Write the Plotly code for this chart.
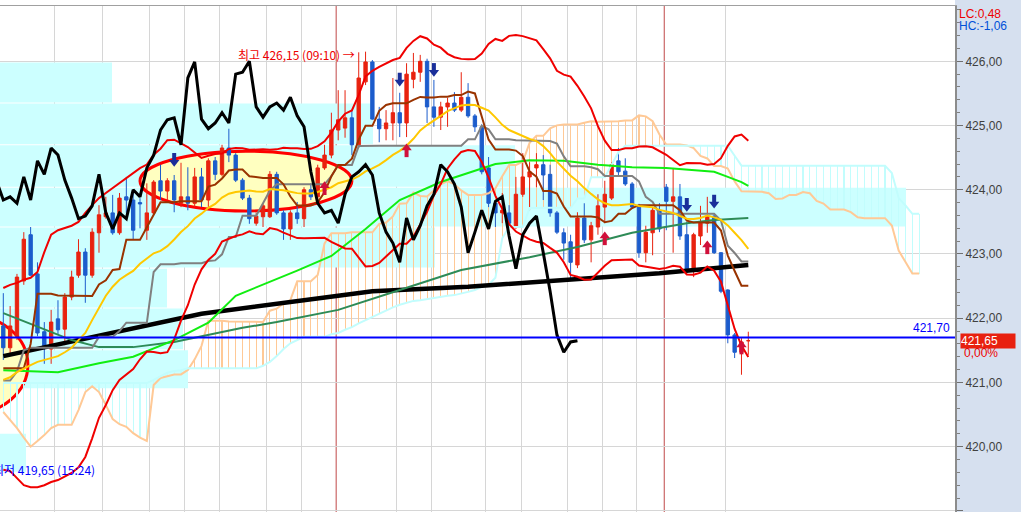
import numpy as np
import plotly.graph_objects as go

# ---------------- candle data (index 0..109) ----------------
open_ = [421.88, 421.54, 421.72, 422.58, 423.30, 422.69, 421.79, 421.52, 421.99, 421.83,
         422.33, 422.67, 423.03, 422.67, 423.33, 423.58, 423.64, 423.33, 423.89, 423.84,
         423.80, 423.37, 423.64, 424.14, 423.98, 424.14, 423.79, 423.89, 423.79, 424.20,
         423.84, 424.45, 424.24, 424.65, 424.54, 424.15, 423.87, 423.48, 423.58, 423.58,
         424.24, 423.64, 423.39, 423.64, 423.55, 424.00, 423.89, 424.34, 424.54, 424.93,
         424.96, 425.12, 424.70, 425.68, 425.99, 425.10, 424.95, 425.04, 425.20, 425.04,
         425.72, 425.83, 426.00, 425.29, 425.13, 425.29, 425.35, 425.24, 425.44, 425.15,
         424.98, 424.34, 423.79, 423.64, 423.64, 423.42, 423.93, 424.20, 424.34, 424.39,
         424.24, 423.64, 423.33, 423.19, 422.83, 423.56, 423.22, 423.42, 423.73, 423.87,
         424.45, 424.29, 424.09, 423.75, 423.02, 423.33, 423.68, 424.04, 423.82, 423.89,
         423.30, 422.77, 423.28, 423.48, 423.59, 423.02, 422.44, 421.74, 421.47, 421.65]
high_ = [422.39, 422.19, 422.69, 423.34, 423.42, 422.87, 421.94, 422.13, 422.28, 422.39,
         422.74, 423.23, 423.09, 423.40, 423.76, 423.89, 423.92, 423.95, 424.20, 424.00,
         423.87, 424.10, 424.15, 424.39, 424.18, 424.23, 424.42, 424.35, 424.34, 424.34,
         424.49, 424.51, 424.70, 424.95, 424.57, 424.18, 423.92, 423.64, 423.79, 424.29,
         424.28, 423.68, 423.68, 423.81, 424.04, 424.10, 424.39, 424.70, 425.20, 425.55,
         425.55, 425.24, 426.14, 426.15, 426.02, 425.29, 425.24, 425.74, 425.51, 425.97,
         426.13, 426.10, 426.04, 425.71, 425.37, 425.43, 425.52, 425.83, 425.66, 425.18,
         425.02, 424.51, 423.84, 423.95, 423.76, 424.20, 424.57, 424.43, 424.57, 424.54,
         424.39, 423.67, 423.40, 423.30, 423.65, 423.79, 423.50, 423.93, 424.14, 424.43,
         424.65, 424.49, 424.12, 423.78, 423.44, 423.72, 423.79, 424.09, 424.34, 424.09,
         423.50, 423.33, 423.75, 423.89, 423.62, 423.03, 422.45, 421.77, 421.69, 421.79]
low_ = [421.35, 421.43, 421.66, 422.52, 422.66, 421.72, 421.29, 421.29, 421.74, 421.58,
        422.28, 422.63, 422.24, 422.63, 423.02, 423.55, 423.30, 423.30, 423.64, 423.22,
        423.40, 423.22, 423.61, 423.84, 423.84, 423.65, 423.73, 423.68, 423.73, 423.73,
        423.73, 424.15, 424.21, 424.43, 424.12, 423.84, 423.47, 423.44, 423.42, 423.56,
        423.61, 423.22, 423.22, 423.47, 423.42, 423.84, 423.84, 424.31, 424.49, 424.77,
        424.81, 424.54, 424.65, 425.63, 425.09, 424.74, 424.77, 424.77, 424.82, 424.82,
        425.58, 425.68, 425.04, 424.98, 424.93, 424.98, 425.21, 425.21, 425.12, 424.90,
        424.24, 423.73, 423.42, 423.48, 423.42, 423.39, 423.89, 423.68, 424.04, 423.84,
        423.58, 423.31, 422.91, 422.60, 422.78, 423.17, 422.87, 423.30, 423.48, 423.84,
        424.20, 424.06, 423.70, 422.94, 422.87, 422.98, 423.34, 423.37, 423.02, 423.22,
        422.70, 422.64, 423.14, 423.33, 423.00, 422.39, 421.61, 421.38, 421.12, 421.43]
close_ = [421.54, 421.88, 422.64, 423.23, 422.67, 421.77, 421.57, 421.94, 421.82, 422.33,
          422.64, 423.03, 422.67, 423.34, 423.61, 423.64, 423.33, 423.87, 423.84, 423.37,
          423.78, 423.64, 424.12, 423.98, 424.14, 423.84, 423.89, 423.79, 424.20, 423.84,
          424.45, 424.24, 424.65, 424.54, 424.15, 423.87, 423.55, 423.59, 423.75, 424.24,
          423.64, 423.39, 423.64, 423.55, 424.00, 423.89, 424.34, 424.54, 424.93, 425.09,
          425.12, 424.70, 425.74, 425.99, 425.10, 424.95, 425.04, 425.20, 425.04, 425.80,
          425.83, 426.00, 425.29, 425.13, 425.29, 425.35, 425.24, 425.44, 425.15, 424.98,
          424.28, 423.79, 423.64, 423.68, 423.48, 423.93, 424.20, 424.28, 424.39, 424.23,
          423.64, 423.34, 423.17, 422.87, 423.56, 423.22, 423.44, 423.75, 423.93, 424.39,
          424.28, 424.09, 423.73, 423.02, 423.34, 423.68, 423.39, 423.82, 423.89, 423.28,
          422.77, 423.30, 423.48, 423.59, 423.02, 422.42, 421.74, 421.47, 421.63, 421.65]

# indicator values before enough history exists
tenkan_early = [421.22, 421.22, 421.22, 421.22, 421.60, 422.38, 422.38, 422.38]
kijun_early = [421.03, 421.03, 421.17, 421.50, 421.54, 421.54, 421.54, 421.54, 421.54, 421.54,
               421.54, 421.54, 421.54, 421.54, 421.71, 421.71, 421.71, 421.80, 421.93, 421.93,
               421.93, 421.93, 422.72, 422.84, 422.84]
span_a_early = [420.54, 420.42, 420.29, 420.14, 420.00, 420.09, 420.18, 420.29, 420.34, 420.34,
                420.34, 420.57, 420.85, 420.94, 420.85, 420.65, 420.43, 420.35, 420.31, 420.21,
                420.14, 420.09, 420.96, 421.07, 421.10]
span_b_early = [420.99] * 22 + [421.04, 421.10, 421.15, 421.18, 421.19] + [421.22] * 11 + \
               [421.26, 421.32, 421.41, 421.52, 421.61, 421.66] + [421.71] * 4 + \
               [421.75, 421.77, 421.82, 421.86, 421.92, 421.97, 422.02, 422.08, 422.13, 422.17,
                422.21, 422.24, 422.27, 422.28, 422.30, 422.31, 422.33, 422.35, 422.36, 422.38,
                422.41, 422.44, 422.49, 422.52, 422.63]
bb_upper_early = [422.47, 422.52, 422.55, 422.60, 422.63, 422.72, 423.03, 423.30, 423.37, 423.40,
                  423.44, 423.50, 423.64, 423.76, 423.87, 423.95, 424.03, 424.10, 424.18]
bb_mid_early = [421.04, 421.08, 421.16, 421.22, 421.27, 421.32, 421.35, 421.38, 421.41, 421.47,
                421.54, 421.66, 421.77, 421.97, 422.16, 422.35, 422.49, 422.60, 422.67]
bb_lower_early = [419.64, 419.62, 419.51, 419.40, 419.37, 419.37, 419.40, 419.45, 419.48, 419.53,
                  419.59, 419.68, 419.84, 420.13, 420.45, 420.65, 420.88, 421.04, 421.13]

# long moving averages
ma_green_idx = [0, 8, 14, 19, 25, 30, 34, 39, 43, 48, 53, 58, 64, 68, 72, 77, 82, 87, 92, 97, 101, 104, 106, 108, 109]
ma_green_val = [421.19, 421.16, 421.30, 421.40, 421.66, 421.93, 422.35, 422.56, 422.74, 422.97, 423.39, 423.84,
                424.12, 424.26, 424.40, 424.46, 424.45, 424.39, 424.35, 424.34, 424.31, 424.28, 424.20, 424.12, 424.06]
ma_dgreen_idx = [0, 7, 10, 14, 19, 25, 30, 35, 40, 49, 58, 67, 77, 84, 92, 96, 100, 104, 109]
ma_dgreen_val = [422.08, 421.79, 421.66, 421.55, 421.55, 421.63, 421.74, 421.85, 421.94, 422.13, 422.44,
                 422.75, 422.95, 423.11, 423.33, 423.40, 423.48, 423.53, 423.56]
ma_black_idx = [0, 14, 29, 49, 54, 68, 82, 96, 109]
ma_black_val = [421.41, 421.72, 422.07, 422.35, 422.42, 422.49, 422.59, 422.70, 422.83]

# volume-by-price profile (price bins, relative volume; 955 = full plot width)
profile_edges = [419.60, 420.21, 420.90, 421.51, 422.16, 422.78, 423.42, 424.04, 424.70, 425.35, 425.99]
profile_volume = [26, 0, 188, 183, 167, 435, 906, 515, 373, 112]
PROFILE_FULL = 955.0

# signals
sig_down_idx = [25, 58, 63, 100, 104]
sig_down_price = [424.46, 425.71, 425.86, 423.76, 423.81]
sig_up_idx = [47, 59, 88, 103, 108]
sig_up_price = [424.03, 424.62, 423.25, 423.11, 421.55]

grid_x = [7.56, 14.44, 21.46, 26.44, 31.56, 38.58, 43.7, 57.6, 62.7, 70.6, 75.8, 82.6, 87.7, 92.7, 105.7]
day_sep_x = [48.7, 96.7]
y_ticks = [419, 420, 421, 422, 423, 424, 425, 426]
ref_price = 421.70
last_price = 421.65
hi_price, lo_price = 426.15, 419.65

# ---------------- derived indicators ----------------
n = len(close_)
idx = list(range(n))
SHIFT = 25
tenkan = [((max(high_[i-8:i+1]) + min(low_[i-8:i+1])) / 2) if i >= 8 else tenkan_early[i] for i in range(n)]
kijun = [((max(high_[i-25:i+1]) + min(low_[i-25:i+1])) / 2) if i >= 25 else kijun_early[i] for i in range(n)]
jj = list(range(n + SHIFT))
span_a = [span_a_early[j] if j < SHIFT else (tenkan[j-SHIFT] + kijun[j-SHIFT]) / 2 for j in jj]
span_b = []
for j in jj:
    if j < len(span_b_early):
        span_b.append(span_b_early[j])
    else:
        i = j - SHIFT
        lo = max(0, i - 51)
        span_b.append((max(high_[lo:i+1]) + min(low_[lo:i+1])) / 2)
bb_mid, bb_up, bb_lo = [], [], []
for i in range(n):
    if i >= 19:
        w = np.array(close_[i-19:i+1])
        m, s = w.mean(), w.std()
        bb_mid.append(m); bb_up.append(m + 2 * s); bb_lo.append(m - 2 * s)
    else:
        bb_mid.append(bb_mid_early[i]); bb_up.append(bb_upper_early[i]); bb_lo.append(bb_lower_early[i])

# ---------------- figure ----------------
Y0, Y1 = 418.983, 426.861
ppx = (Y1 - Y0) / 506.0
X0, X1 = -0.483, 139.24
RED = "#e8220f"; BLUE = "#1c5ccc"
PEACH = "#ffc996"; PALECYAN = "#c2fdfd"

fig = go.Figure()

# ichimoku cloud hatch (thin bars, drawn under candles)
hatch_base = [min(a, b) for a, b in zip(span_a, span_b)]
hatch_len = [abs(a - b) for a, b in zip(span_a, span_b)]
hatch_col = [PEACH if a >= b else PALECYAN for a, b in zip(span_a, span_b)]
fig.add_trace(go.Bar(x=jj, y=hatch_len, base=hatch_base, width=0.16,
                     marker=dict(color=hatch_col, line=dict(width=0)), showlegend=False, hoverinfo="skip"))

fig.add_trace(go.Candlestick(x=idx, open=open_, high=high_, low=low_, close=close_,
                             increasing=dict(line=dict(color=RED, width=1), fillcolor=RED),
                             decreasing=dict(line=dict(color=BLUE, width=1), fillcolor=BLUE),
                             whiskerwidth=0, showlegend=False, hoverinfo="skip"))

def line(x, y, color, width):
    fig.add_trace(go.Scatter(x=x, y=y, mode="lines", line=dict(color=color, width=width),
                             showlegend=False, hoverinfo="skip"))

line(jj, span_a, PEACH, 2)
line(jj, span_b, PALECYAN, 2)
line(ma_black_idx, ma_black_val, "#000000", 4.5)
line(ma_dgreen_idx, ma_dgreen_val, "#2e8b57", 2)
line(ma_green_idx, ma_green_val, "#11ee11", 2)
line(idx, kijun, "#808080", 2)
line(idx, tenkan, "#993300", 2)
line(idx, bb_mid, "#ffc800", 2)
line(idx, bb_up, "#f00000", 2)
line(idx, bb_lo, "#f00000", 2)
line([i - SHIFT for i in idx], close_, "#000000", 3)

# signal arrows
fig.add_trace(go.Scatter(x=sig_down_idx, y=[p + 3 * ppx for p in sig_down_price], mode="markers",
                         marker=dict(symbol="line-ns", size=6, line=dict(color="#1a2f9a", width=4)),
                         showlegend=False, hoverinfo="skip"))
fig.add_trace(go.Scatter(x=sig_down_idx, y=[p - 2 * ppx for p in sig_down_price], mode="markers",
                         marker=dict(symbol="triangle-down", size=9, color="#1a2f9a"),
                         showlegend=False, hoverinfo="skip"))
fig.add_trace(go.Scatter(x=sig_up_idx, y=[p - 3 * ppx for p in sig_up_price], mode="markers",
                         marker=dict(symbol="line-ns", size=6, line=dict(color="#d0103a", width=4)),
                         showlegend=False, hoverinfo="skip"))
fig.add_trace(go.Scatter(x=sig_up_idx, y=[p + 2 * ppx for p in sig_up_price], mode="markers",
                         marker=dict(symbol="triangle-up", size=9, color="#d0103a"),
                         showlegend=False, hoverinfo="skip"))

shapes = []
# right panel background
shapes.append(dict(type="rect", xref="paper", yref="paper", x0=1.0, x1=1.08, y0=-0.02, y1=1.02,
                   fillcolor="#d6e0ef", line=dict(width=0), layer="below"))
# volume profile, bars grow from the left edge of the plot
for k, v in enumerate(profile_volume):
    if v <= 0:
        continue
    shapes.append(dict(type="rect", xref="x", yref="y", x0=X0, x1=X0 + (X1 - X0) * v / PROFILE_FULL,
                       y0=profile_edges[k] + 0.008, y1=profile_edges[k+1] - 0.008,
                       fillcolor="#ccffff", line=dict(width=0), layer="between"))
# highlight ellipses
shapes.append(dict(type="circle", xref="x", yref="y", x0=20.0, x1=51.0, y0=423.67, y1=424.60,
                   fillcolor="#ffffc0", line=dict(color="#ff0000", width=3), layer="between"))
shapes.append(dict(type="circle", xref="x", yref="y", x0=-13.8, x1=3.6, y0=420.50, y1=422.05,
                   fillcolor="#ffffc0", line=dict(color="#ff0000", width=3), layer="between"))
for xs in day_sep_x:
    shapes.append(dict(type="line", xref="x", yref="paper", x0=xs, x1=xs, y0=0, y1=1,
                       line=dict(color="#c04848", width=1), layer="between"))
shapes.append(dict(type="line", xref="paper", yref="y", x0=0, x1=1, y0=ref_price, y1=ref_price,
                   line=dict(color="#0000ff", width=2), layer="above"))

annotations = [
    dict(x=51.75, y=hi_price - 0.04, xref="x", yref="y", xanchor="right", yanchor="middle",
         text="최고 426,15 (09:10) →", showarrow=False,
         font=dict(family="Noto Sans CJK KR", size=12, color="#ee0000")),
    dict(x=13.7, y=lo_price, xref="x", yref="y", xanchor="right", yanchor="middle",
         text="최저 419,65 (15:24)", showarrow=False,
         font=dict(family="Noto Sans CJK KR", size=12, color="#0000ff")),
    dict(x=0.997, y=ref_price, xref="paper", yref="y", xanchor="right", yanchor="bottom",
         text="421,70", showarrow=False, font=dict(family="Liberation Sans", size=12, color="#0000ff")),
    dict(x=1.002, y=0.984, xref="paper", yref="paper", xanchor="left", yanchor="middle",
         text="LC:0,48", showarrow=False, font=dict(family="Liberation Sans", size=12, color="#ee0000")),
    dict(x=1.002, y=0.9605, xref="paper", yref="paper", xanchor="left", yanchor="middle",
         text="HC:-1,06", showarrow=False, font=dict(family="Liberation Sans", size=12, color="#0050d8")),
    dict(x=1.0052, y=last_price, xref="paper", yref="y", xanchor="left", yanchor="middle",
         text="421,65", showarrow=False, bgcolor="#e8200f", width=54, align="left", borderpad=0,
         font=dict(family="Liberation Sans", size=12, color="#ffffff")),
    dict(x=1.0075, y=last_price - 12 * ppx, xref="paper", yref="y", xanchor="left", yanchor="middle",
         text="0,00%", showarrow=False, font=dict(family="Liberation Sans", size=12, color="#ee0000")),
]

fig.update_layout(
    width=1021, height=512, margin=dict(l=0, r=66, t=6, b=0),
    paper_bgcolor="#ffffff", plot_bgcolor="#ffffff", showlegend=False,
    bargap=0, shapes=shapes, annotations=annotations,
    xaxis=dict(range=[X0, X1], showticklabels=False, ticks="", tickvals=grid_x,
               showgrid=True, gridcolor="#d6d6d6", gridwidth=1, zeroline=False,
               side="top", showline=True, linecolor="#a0a0a0", linewidth=1,
               rangeslider=dict(visible=False), fixedrange=True),
    yaxis=dict(range=[Y0, Y1], side="right", tickvals=y_ticks,
               ticktext=[("%.2f" % v).replace(".", ",") for v in y_ticks],
               ticks="outside", ticklen=6, tickcolor="#707070", tickwidth=1,
               minor=dict(dtick=0.2, tick0=419, ticks="outside", ticklen=3, tickcolor="#808080", showgrid=False),
               showgrid=True, gridcolor="#d6d6d6", gridwidth=1, zeroline=False,
               showline=True, linecolor="#8c8c8c", linewidth=2,
               tickfont=dict(family="Liberation Sans", size=12, color="#404040"), fixedrange=True),
)

fig.write_html("out.html", config={"displayModeBar": False, "staticPlot": True},
               post_script="document.body.style.margin='0';document.body.style.padding='0';")
